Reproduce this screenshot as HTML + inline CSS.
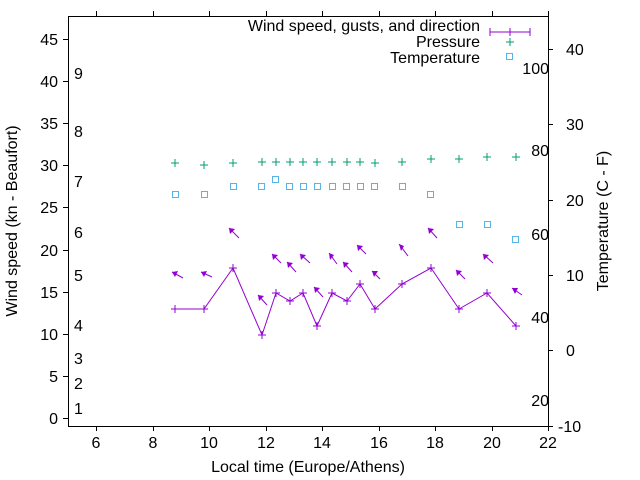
<!DOCTYPE html>
<html><head><meta charset="utf-8"><style>
html,body{margin:0;padding:0;background:#fff}
svg{display:block;font-family:"Liberation Sans",sans-serif}
</style></head><body>
<svg width="640" height="480" viewBox="0 0 640 480" xmlns="http://www.w3.org/2000/svg">
<rect width="640" height="480" fill="#fff"/>
<g stroke="#000" stroke-width="1" fill="none">
<rect x="68.5" y="16.5" width="480" height="410"/>
<path d="M96.5 426v5M96.5 16v-5M153.5 426v5M153.5 16v-5M209.5 426v5M209.5 16v-5M266.5 426v5M266.5 16v-5M322.5 426v5M322.5 16v-5M379.5 426v5M379.5 16v-5M435.5 426v5M435.5 16v-5M492.5 426v5M492.5 16v-5M548.5 426v5M548.5 16v-5"/>
<path d="M68 418.5h-5M68 376.5h-5M68 334.5h-5M68 292.5h-5M68 250.5h-5M68 207.5h-5M68 165.5h-5M68 123.5h-5M68 81.5h-5M68 39.5h-5"/>
<path d="M548 426.5h5M548 350.5h5M548 275.5h5M548 200.5h5M548 124.5h5M548 49.5h5"/>
</g>
<g font-size="16" fill="#000" text-anchor="end">
<text x="58" y="424">0</text><text x="58" y="382">5</text><text x="58" y="340">10</text><text x="58" y="298">15</text><text x="58" y="256">20</text><text x="58" y="213">25</text><text x="58" y="171">30</text><text x="58" y="129">35</text><text x="58" y="87">40</text><text x="58" y="45">45</text>
</g>
<g font-size="16" fill="#000" text-anchor="middle">
<text x="96" y="448">6</text><text x="153" y="448">8</text><text x="209" y="448">10</text><text x="266" y="448">12</text><text x="322" y="448">14</text><text x="379" y="448">16</text><text x="435" y="448">18</text><text x="492" y="448">20</text><text x="548" y="448">22</text>
<text x="308" y="472">Local time (Europe/Athens)</text>
<text transform="translate(17,221) rotate(-90)">Wind speed (kn - Beaufort)</text>
<text transform="translate(608,221) rotate(-90)">Temperature (C - F)</text>
</g>
<g font-size="16" fill="#000">
<text x="558" y="432">-10</text><text x="566" y="356">0</text><text x="566" y="281">10</text><text x="566" y="206">20</text><text x="566" y="130">30</text><text x="566" y="55">40</text>
<text x="74" y="414">1</text><text x="74" y="389">2</text><text x="74" y="364">3</text><text x="74" y="331">4</text><text x="74" y="281">5</text><text x="74" y="238">6</text><text x="74" y="187">7</text><text x="74" y="137">8</text><text x="74" y="79">9</text>
</g>
<g font-size="16" fill="#000" text-anchor="end">
<text x="549" y="74">100</text><text x="549" y="156">80</text><text x="549" y="240">60</text><text x="549" y="323">40</text><text x="549" y="406">20</text>
</g>
<g font-size="16" fill="#000" text-anchor="end">
<text x="480" y="31">Wind speed, gusts, and direction</text>
<text x="480" y="47">Pressure</text>
<text x="480" y="63">Temperature</text>
</g>
<g stroke="#9400d3" fill="none" stroke-width="1">
<path d="M490 32h40M490 28v8M530 28v8M510 28v8"/>
<polyline points="175,309 204,309 233,268 262,335 276,293 290,301 303,293 317,326 332,293 347,301 360,284 375,309 402,284 431,268 459,309 487,293 516,326"/>
<path d="M171 309h8M175 305v8M200 309h8M204 305v8M229 268h8M233 264v8M258 335h8M262 331v8M272 293h8M276 289v8M286 301h8M290 297v8M299 293h8M303 289v8M313 326h8M317 322v8M328 293h8M332 289v8M343 301h8M347 297v8M356 284h8M360 280v8M371 309h8M375 305v8M398 284h8M402 280v8M427 268h8M431 264v8M455 309h8M459 305v8M483 293h8M487 289v8M512 326h8M516 322v8"/>
<path d="M183 278L172 272M212 277L201 272M239 238L229 228M267 305L258 295M281 263L272 254M296 272L287 262M310 263L300 254M323 297L314 287M337 264L329 253M352 272L343 262M366 254L357 245M380 279L372 271M408 256L399 244M437 238L428 228M465 279L456 270M493 263L483 254M522 295L512 288"/>
</g>
<g fill="#9400d3">
<polygon points="172,272 178,271 175,277"/><polygon points="201,272 207,271 204,277"/><polygon points="229,228 235,229 230,234"/><polygon points="258,295 264,296 259,301"/><polygon points="272,254 278,255 273,260"/><polygon points="287,262 293,263 288,268"/><polygon points="300,254 306,255 301,260"/><polygon points="314,287 320,288 315,293"/><polygon points="329,253 334,255 330,260"/><polygon points="343,262 349,263 344,268"/><polygon points="357,245 363,246 358,251"/><polygon points="372,271 378,271 374,277"/><polygon points="399,244 404,246 401,251"/><polygon points="428,228 434,229 429,234"/><polygon points="456,270 462,271 457,276"/><polygon points="483,254 489,255 484,260"/><polygon points="512,288 518,288 515,294"/>
</g>
<g stroke="#009e73" stroke-width="1" fill="none">
<path d="M506 42h8M510 38v8"/>
<path d="M171 163h8M175 159v8M200 165h8M204 161v8M229 163h8M233 159v8M258 162h8M262 158v8M272 162h8M276 158v8M286 162h8M290 158v8M299 162h8M303 158v8M313 162h8M317 158v8M328 162h8M332 158v8M343 162h8M347 158v8M356 162h8M360 158v8M371 163h8M375 159v8M398 162h8M402 158v8M427 159h8M431 155v8M455 159h8M459 155v8M483 157h8M487 153v8M512 157h8M516 153v8"/>
</g>
<g stroke="#56b4e9" stroke-width="1" fill="none">
<rect x="506.5" y="53.5" width="6" height="6"/>
<rect x="172.5" y="191.5" width="6" height="6"/><rect x="201.5" y="191.5" width="6" height="6"/><rect x="230.5" y="183.5" width="6" height="6"/><rect x="258.5" y="183.5" width="6" height="6"/><rect x="272.5" y="176.5" width="6" height="6"/><rect x="286.5" y="183.5" width="6" height="6"/><rect x="300.5" y="183.5" width="6" height="6"/><rect x="314.5" y="183.5" width="6" height="6"/><rect x="329.5" y="183.5" width="6" height="6"/><rect x="343.5" y="183.5" width="6" height="6"/><rect x="357.5" y="183.5" width="6" height="6"/><rect x="371.5" y="183.5" width="6" height="6"/><rect x="399.5" y="183.5" width="6" height="6"/><rect x="427.5" y="191.5" width="6" height="6"/><rect x="456.5" y="221.5" width="6" height="6"/><rect x="484.5" y="221.5" width="6" height="6"/><rect x="512.5" y="236.5" width="6" height="6"/>
</g>
</svg>
</body></html>
